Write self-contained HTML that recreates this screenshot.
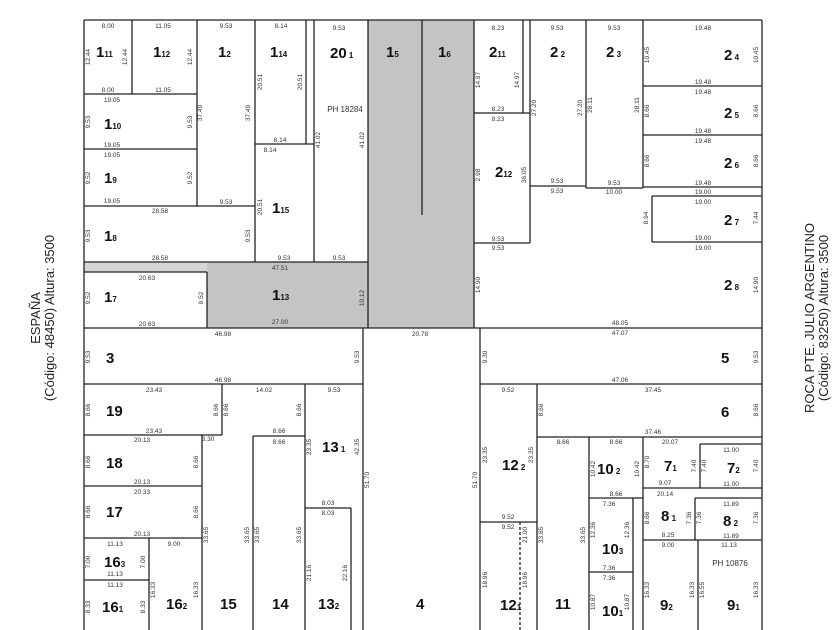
<!DOCTYPE html>
<html><head><meta charset="utf-8"><style>
html,body{margin:0;padding:0;background:#fff;}
svg{display:block;font-family:"Liberation Sans",sans-serif;}
.l{font-size:15px;font-weight:bold;fill:#111;}
.s{font-size:8px;font-weight:bold;}
.d{font-size:6.5px;fill:#333;text-anchor:middle;}
.st{font-size:13px;fill:#222;text-anchor:middle;}
</style></head><body>
<svg width="840" height="630" viewBox="0 0 840 630" xmlns="http://www.w3.org/2000/svg">
<!-- grey areas -->
<g fill="#c4c4c4">
<rect x="368" y="20" width="106" height="308"/>
<rect x="84" y="262" width="284" height="10" fill="#d6d6d6"/>
<rect x="207" y="262" width="161" height="66"/>
</g>
<g stroke="#222" stroke-width="1.3" fill="none">
<!-- frame -->
<line x1="84" y1="20" x2="762" y2="20"/>
<line x1="84" y1="20" x2="84" y2="630"/>
<line x1="762" y1="20" x2="762" y2="630"/>
<!-- top-left -->
<line x1="132" y1="20" x2="132" y2="94"/>
<line x1="197" y1="20" x2="197" y2="206"/>
<line x1="84" y1="94" x2="197" y2="94"/>
<line x1="84" y1="149" x2="197" y2="149"/>
<line x1="84" y1="206" x2="255" y2="206"/>
<line x1="255" y1="20" x2="255" y2="262"/>
<line x1="306" y1="20" x2="306" y2="144"/>
<line x1="314" y1="20" x2="314" y2="262"/>
<line x1="255" y1="144" x2="314" y2="144"/>
<line x1="84" y1="262" x2="368" y2="262"/>
<line x1="368" y1="20" x2="368" y2="328"/>
<line x1="422" y1="20" x2="422" y2="215"/>
<line x1="474" y1="20" x2="474" y2="328"/>
<line x1="84" y1="272" x2="207" y2="272"/>
<line x1="207" y1="272" x2="207" y2="328"/>
<line x1="84" y1="328" x2="762" y2="328"/>
<!-- top-right -->
<line x1="523" y1="20" x2="523" y2="113"/>
<line x1="530" y1="20" x2="530" y2="243"/>
<line x1="474" y1="113" x2="530" y2="113"/>
<line x1="474" y1="243" x2="530" y2="243"/>
<line x1="586" y1="20" x2="586" y2="188"/>
<line x1="530" y1="186" x2="586" y2="186"/>
<line x1="586" y1="188" x2="643" y2="188"/>
<line x1="643" y1="20" x2="643" y2="188"/>
<line x1="643" y1="86" x2="762" y2="86"/>
<line x1="643" y1="135" x2="762" y2="135"/>
<line x1="643" y1="187" x2="762" y2="187"/>
<line x1="652" y1="196" x2="762" y2="196"/>
<line x1="652" y1="196" x2="652" y2="242"/>
<line x1="652" y1="242" x2="762" y2="242"/>
<!-- bottom-left -->
<line x1="363" y1="328" x2="363" y2="630"/>
<line x1="84" y1="384" x2="363" y2="384"/>
<line x1="222" y1="384" x2="222" y2="435"/>
<line x1="84" y1="435" x2="222" y2="435"/>
<line x1="305" y1="384" x2="305" y2="630"/>
<line x1="253" y1="436" x2="305" y2="436"/>
<line x1="253" y1="436" x2="253" y2="630"/>
<line x1="202" y1="435" x2="202" y2="630"/>
<line x1="84" y1="486" x2="202" y2="486"/>
<line x1="84" y1="538" x2="202" y2="538"/>
<line x1="149" y1="538" x2="149" y2="630"/>
<line x1="84" y1="580" x2="149" y2="580"/>
<line x1="305" y1="508" x2="351" y2="508"/>
<line x1="351" y1="508" x2="351" y2="630"/>
<!-- bottom-right -->
<line x1="480" y1="328" x2="480" y2="630"/>
<line x1="480" y1="384" x2="762" y2="384"/>
<line x1="537" y1="384" x2="537" y2="630"/>
<line x1="537" y1="437" x2="762" y2="437"/>
<line x1="480" y1="522" x2="537" y2="522"/>
<line x1="520" y1="522" x2="520" y2="630" stroke-dasharray="3,2"/>
<line x1="589" y1="437" x2="589" y2="630"/>
<line x1="643" y1="437" x2="643" y2="630"/>
<line x1="589" y1="498" x2="643" y2="498"/>
<line x1="633" y1="498" x2="633" y2="630"/>
<line x1="589" y1="572" x2="633" y2="572"/>
<line x1="700" y1="444" x2="700" y2="488"/>
<line x1="700" y1="444" x2="762" y2="444"/>
<line x1="643" y1="488" x2="762" y2="488"/>
<line x1="695" y1="498" x2="762" y2="498"/>
<line x1="695" y1="498" x2="695" y2="540"/>
<line x1="643" y1="540" x2="762" y2="540"/>
<line x1="698" y1="540" x2="698" y2="630"/>
</g>
<!-- lot labels -->
<g class="l">
<text x="96" y="57">1<tspan class="s">11</tspan></text>
<text x="153" y="57">1<tspan class="s">12</tspan></text>
<text x="218" y="57">1<tspan class="s">2</tspan></text>
<text x="270" y="57">1<tspan class="s">14</tspan></text>
<text x="330" y="58">20<tspan class="s"> 1</tspan></text>
<text x="386" y="57">1<tspan class="s">5</tspan></text>
<text x="438" y="57">1<tspan class="s">6</tspan></text>
<text x="489" y="57">2<tspan class="s">11</tspan></text>
<text x="550" y="57">2<tspan class="s"> 2</tspan></text>
<text x="606" y="57">2<tspan class="s"> 3</tspan></text>
<text x="724" y="60">2<tspan class="s"> 4</tspan></text>
<text x="104" y="129">1<tspan class="s">10</tspan></text>
<text x="724" y="118">2<tspan class="s"> 5</tspan></text>
<text x="104" y="183">1<tspan class="s">9</tspan></text>
<text x="724" y="168">2<tspan class="s"> 6</tspan></text>
<text x="272" y="213">1<tspan class="s">15</tspan></text>
<text x="495" y="177">2<tspan class="s">12</tspan></text>
<text x="724" y="225">2<tspan class="s"> 7</tspan></text>
<text x="104" y="241">1<tspan class="s">8</tspan></text>
<text x="104" y="302">1<tspan class="s">7</tspan></text>
<text x="272" y="300">1<tspan class="s">13</tspan></text>
<text x="724" y="290">2<tspan class="s"> 8</tspan></text>
<text x="106" y="363">3</text>
<text x="721" y="363">5</text>
<text x="106" y="416">19</text>
<text x="721" y="417">6</text>
<text x="322" y="452">13<tspan class="s"> 1</tspan></text>
<text x="502" y="470">12<tspan class="s"> 2</tspan></text>
<text x="597" y="474">10<tspan class="s"> 2</tspan></text>
<text x="664" y="471">7<tspan class="s">1</tspan></text>
<text x="727" y="473">7<tspan class="s">2</tspan></text>
<text x="106" y="468">18</text>
<text x="106" y="517">17</text>
<text x="661" y="521">8<tspan class="s"> 1</tspan></text>
<text x="723" y="526">8<tspan class="s"> 2</tspan></text>
<text x="602" y="554">10<tspan class="s">3</tspan></text>
<text x="104" y="567">16<tspan class="s">3</tspan></text>
<text x="102" y="612">16<tspan class="s">1</tspan></text>
<text x="166" y="609">16<tspan class="s">2</tspan></text>
<text x="220" y="609">15</text>
<text x="272" y="609">14</text>
<text x="318" y="609">13<tspan class="s">2</tspan></text>
<text x="416" y="609">4</text>
<text x="500" y="610">12<tspan class="s">1</tspan></text>
<text x="555" y="609">11</text>
<text x="602" y="616">10<tspan class="s">1</tspan></text>
<text x="660" y="610">9<tspan class="s">2</tspan></text>
<text x="727" y="610">9<tspan class="s">1</tspan></text>
</g>
<text x="345" y="112" font-size="8" text-anchor="middle" fill="#333">PH 18284</text>
<text x="730" y="566" font-size="8" text-anchor="middle" fill="#333">PH 10876</text>
<!-- dimension labels -->
<g class="d">
<text x="108" y="28">8.00</text><text x="163" y="28">11.05</text><text x="226" y="28">9.53</text><text x="281" y="28">8.14</text><text x="339" y="30">9.53</text>
<text x="498" y="30">8.23</text><text x="557" y="30">9.53</text><text x="614" y="30">9.53</text><text x="703" y="30">19.48</text>
<text x="108" y="92">8.00</text><text x="163" y="92">11.05</text><text x="112" y="102">19.05</text><text x="112" y="147">19.05</text><text x="112" y="157">19.05</text><text x="112" y="203">19.05</text>
<text x="226" y="204">9.53</text><text x="280" y="142">8.14</text><text x="270" y="152">8.14</text><text x="160" y="213">28.58</text><text x="160" y="260">28.58</text>
<text x="284" y="260">9.53</text><text x="339" y="260">9.53</text><text x="280" y="270">47.51</text><text x="147" y="280">20.63</text><text x="147" y="326">20.63</text><text x="280" y="324">27.00</text>
<text x="498" y="111">8.23</text><text x="498" y="121">8.23</text><text x="498" y="241">9.53</text><text x="498" y="250">9.53</text><text x="557" y="183">9.53</text><text x="557" y="193">9.53</text><text x="614" y="185">9.53</text><text x="614" y="194">10.00</text>
<text x="703" y="84">19.48</text><text x="703" y="94">19.48</text><text x="703" y="133">19.48</text><text x="703" y="143">19.48</text><text x="703" y="185">19.48</text><text x="703" y="194">19.00</text><text x="703" y="204">19.00</text><text x="703" y="240">19.00</text><text x="703" y="250">19.00</text>
<text x="620" y="325">48.05</text><text x="620" y="335">47.07</text><text x="223" y="336">46.98</text><text x="223" y="382">46.98</text><text x="420" y="336">20.78</text>
<text x="154" y="392">23.43</text><text x="154" y="433">23.43</text><text x="264" y="392">14.02</text><text x="334" y="392">9.53</text><text x="142" y="442">20.13</text><text x="142" y="484">20.13</text><text x="142" y="494">20.33</text><text x="142" y="536">20.13</text>
<text x="279" y="433">8.66</text><text x="279" y="444">8.66</text><text x="328" y="505">8.03</text><text x="328" y="515">8.03</text><text x="115" y="546">11.13</text><text x="115" y="576">11.13</text><text x="115" y="587">11.13</text><text x="174" y="546">9.00</text><text x="208" y="441">3.30</text>
<text x="620" y="382">47.06</text><text x="653" y="392">37.45</text><text x="653" y="434">37.46</text><text x="508" y="392">9.52</text><text x="508" y="519">9.52</text><text x="508" y="529">9.52</text>
<text x="563" y="444">8.66</text><text x="616" y="444">8.66</text><text x="616" y="496">8.66</text><text x="609" y="506">7.36</text><text x="609" y="570">7.36</text><text x="609" y="580">7.36</text>
<text x="670" y="444">20.07</text><text x="731" y="452">11.00</text><text x="731" y="486">11.00</text><text x="665" y="485">9.07</text><text x="665" y="496">20.14</text><text x="731" y="506">11.89</text><text x="731" y="538">11.89</text><text x="668" y="537">8.25</text><text x="668" y="547">9.00</text><text x="729" y="547">11.13</text>
</g>
<g class="d">
<text transform="translate(90,57) rotate(-90)">12.44</text><text transform="translate(127,57) rotate(-90)">12.44</text><text transform="translate(192,57) rotate(-90)">12.44</text>
<text transform="translate(90,122) rotate(-90)">9.53</text><text transform="translate(192,122) rotate(-90)">9.53</text><text transform="translate(90,178) rotate(-90)">9.52</text><text transform="translate(192,178) rotate(-90)">9.52</text>
<text transform="translate(202,113) rotate(-90)">37.49</text><text transform="translate(250,113) rotate(-90)">37.49</text><text transform="translate(262,82) rotate(-90)">20.51</text><text transform="translate(302,82) rotate(-90)">20.51</text>
<text transform="translate(320,140) rotate(-90)">41.02</text><text transform="translate(364,140) rotate(-90)">41.02</text><text transform="translate(262,207) rotate(-90)">20.51</text>
<text transform="translate(90,236) rotate(-90)">9.53</text><text transform="translate(250,236) rotate(-90)">9.53</text><text transform="translate(90,298) rotate(-90)">9.52</text><text transform="translate(203,298) rotate(-90)">9.52</text><text transform="translate(364,298) rotate(-90)">10.12</text>
<text transform="translate(480,80) rotate(-90)">14.97</text><text transform="translate(519,80) rotate(-90)">14.97</text><text transform="translate(536,108) rotate(-90)">27.20</text><text transform="translate(582,108) rotate(-90)">27.20</text><text transform="translate(592,105) rotate(-90)">28.11</text><text transform="translate(639,105) rotate(-90)">28.11</text>
<text transform="translate(649,55) rotate(-90)">10.45</text><text transform="translate(758,55) rotate(-90)">10.45</text><text transform="translate(649,111) rotate(-90)">8.66</text><text transform="translate(758,111) rotate(-90)">8.66</text><text transform="translate(649,161) rotate(-90)">8.66</text><text transform="translate(758,161) rotate(-90)">8.66</text>
<text transform="translate(480,175) rotate(-90)">2.98</text><text transform="translate(526,175) rotate(-90)">36.05</text><text transform="translate(648,218) rotate(-90)">8.94</text><text transform="translate(758,218) rotate(-90)">7.44</text><text transform="translate(480,285) rotate(-90)">14.90</text><text transform="translate(758,285) rotate(-90)">14.90</text>
<text transform="translate(90,357) rotate(-90)">9.53</text><text transform="translate(359,357) rotate(-90)">9.53</text><text transform="translate(487,357) rotate(-90)">9.30</text><text transform="translate(758,357) rotate(-90)">9.53</text>
<text transform="translate(90,410) rotate(-90)">8.66</text><text transform="translate(218,410) rotate(-90)">8.66</text><text transform="translate(228,410) rotate(-90)">8.66</text><text transform="translate(301,410) rotate(-90)">8.66</text><text transform="translate(543,410) rotate(-90)">8.66</text><text transform="translate(758,410) rotate(-90)">8.66</text>
<text transform="translate(90,462) rotate(-90)">8.66</text><text transform="translate(198,462) rotate(-90)">8.66</text><text transform="translate(90,512) rotate(-90)">8.66</text><text transform="translate(198,512) rotate(-90)">8.66</text>
<text transform="translate(311,447) rotate(-90)">23.35</text><text transform="translate(359,447) rotate(-90)">42.35</text><text transform="translate(369,480) rotate(-90)">51.70</text><text transform="translate(477,480) rotate(-90)">51.70</text><text transform="translate(487,455) rotate(-90)">23.35</text><text transform="translate(533,455) rotate(-90)">23.35</text>
<text transform="translate(208,535) rotate(-90)">33.65</text><text transform="translate(249,535) rotate(-90)">33.65</text><text transform="translate(259,535) rotate(-90)">33.65</text><text transform="translate(301,535) rotate(-90)">33.65</text><text transform="translate(543,535) rotate(-90)">33.65</text><text transform="translate(585,535) rotate(-90)">33.65</text>
<text transform="translate(90,562) rotate(-90)">7.00</text><text transform="translate(145,562) rotate(-90)">7.00</text><text transform="translate(155,590) rotate(-90)">16.33</text><text transform="translate(198,590) rotate(-90)">16.33</text><text transform="translate(90,607) rotate(-90)">8.33</text><text transform="translate(145,607) rotate(-90)">8.33</text>
<text transform="translate(311,573) rotate(-90)">21.16</text><text transform="translate(347,573) rotate(-90)">22.16</text><text transform="translate(487,580) rotate(-90)">18.96</text><text transform="translate(527,580) rotate(-90)">18.96</text><text transform="translate(527,535) rotate(-90)">21.00</text>
<text transform="translate(595,469) rotate(-90)">10.42</text><text transform="translate(639,469) rotate(-90)">10.42</text><text transform="translate(649,462) rotate(-90)">8.70</text><text transform="translate(696,466) rotate(-90)">7.40</text><text transform="translate(706,466) rotate(-90)">7.40</text><text transform="translate(758,466) rotate(-90)">7.40</text>
<text transform="translate(595,530) rotate(-90)">12.36</text><text transform="translate(629,530) rotate(-90)">12.36</text><text transform="translate(649,518) rotate(-90)">8.66</text><text transform="translate(691,518) rotate(-90)">7.36</text><text transform="translate(701,518) rotate(-90)">7.36</text><text transform="translate(758,518) rotate(-90)">7.36</text>
<text transform="translate(595,602) rotate(-90)">10.87</text><text transform="translate(629,602) rotate(-90)">10.87</text><text transform="translate(649,590) rotate(-90)">16.33</text><text transform="translate(694,590) rotate(-90)">16.33</text><text transform="translate(704,590) rotate(-90)">16.55</text><text transform="translate(758,590) rotate(-90)">16.33</text>
</g>
<!-- street labels -->
<text class="st" transform="translate(40,318) rotate(-90)">ESPAÑA</text>
<text class="st" transform="translate(54,318) rotate(-90)">(Código: 48450) Altura: 3500</text>
<text class="st" transform="translate(814,318) rotate(-90)">ROCA PTE. JULIO ARGENTINO</text>
<text class="st" transform="translate(828,318) rotate(-90)">(Código: 83250) Altura: 3500</text>
</svg>
</body></html>
